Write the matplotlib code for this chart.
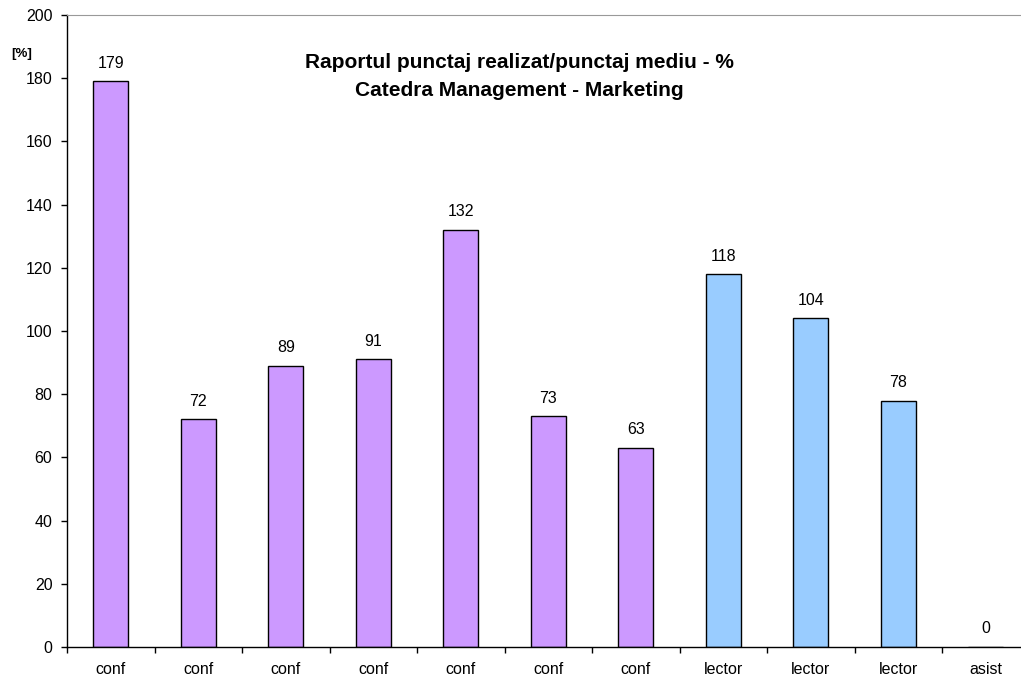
import matplotlib
matplotlib.use("Agg")
import matplotlib.pyplot as plt

plt.rcParams['font.family'] = ['Liberation Sans', 'DejaVu Sans']

categories = ["conf"] * 7 + ["lector"] * 3 + ["asist"]
values = [179, 72, 89, 91, 132, 73, 63, 118, 104, 78, 0]
colors = ["#CC99FF"] * 7 + ["#99CCFF"] * 3 + ["#99CCFF"]
yticks = [0, 20, 40, 60, 80, 100, 120, 140, 160, 180, 200]

fig = plt.figure(figsize=(10.21, 6.81), dpi=100)
# axes runs a little past the right edge, like the original
ax = fig.add_axes([67 / 1021, 34 / 681, 962.5 / 1021, 632 / 681])

x = list(range(len(values)))
ax.bar(x, values, width=0.4, color=colors, edgecolor="black", linewidth=1.0)

for xi, v in zip(x, values):
    ax.annotate(str(v), (xi, v), xytext=(0, 13), textcoords="offset points",
                ha="center", va="center", fontsize=11.5)

ax.set_xlim(-0.5, len(values) - 0.5)
ax.set_ylim(0, 200)
ax.set_yticks(yticks)
ax.tick_params(axis="y", labelsize=11.5, length=4, width=1, direction="out", pad=6.5)

ax.set_xticks([i - 0.5 for i in range(len(values) + 1)])
ax.set_xticklabels([])
ax.set_xticks(x, minor=True)
ax.set_xticklabels(categories, minor=True, fontsize=11.5)
ax.tick_params(axis="x", which="major", length=4, width=1, direction="out")
ax.tick_params(axis="x", which="minor", length=0, pad=10.5)

ax.spines["right"].set_visible(False)
ax.spines["top"].set_color("#999999")
ax.spines["left"].set_linewidth(1)
ax.spines["bottom"].set_linewidth(1)

fig.text(519 / 1021, 1 - 62 / 681, "Raportul punctaj realizat/punctaj mediu - %",
         ha="center", va="center", fontsize=15, fontweight="bold")
fig.text(519 / 1021, 1 - 90 / 681, "Catedra Management - Marketing",
         ha="center", va="center", fontsize=15, fontweight="bold")
fig.text(22 / 1021, 1 - 54 / 681, "[%]", ha="center", va="center",
         fontsize=9.5, fontweight="bold")

fig.savefig("out.png", dpi=100)
